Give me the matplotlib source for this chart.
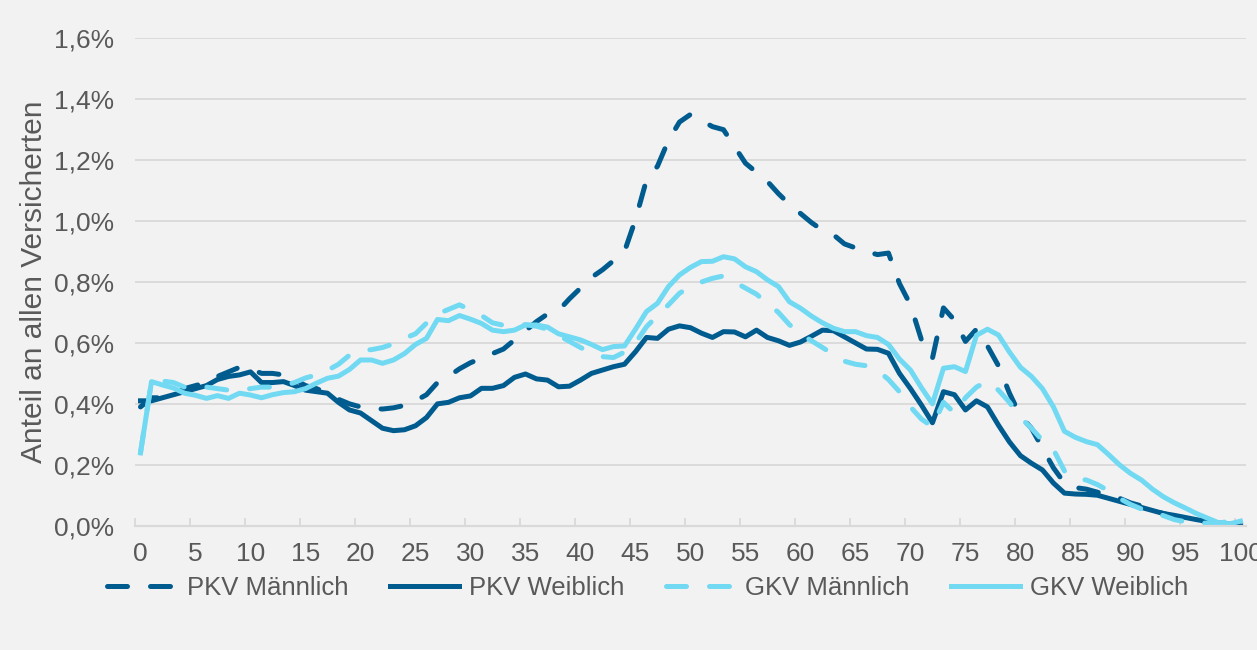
import matplotlib
matplotlib.use("Agg")
import matplotlib.pyplot as plt

plt.rcParams["font.family"] = ["Liberation Sans", "DejaVu Sans"]

# Alter 0..100 (Kategorien)
ages = list(range(0, 101))

# Anteil an allen Versicherten in %
pkv_m = [0.39, 0.42, 0.42, 0.43, 0.45, 0.46, 0.47, 0.49, 0.505, 0.52,
         0.515, 0.50, 0.50, 0.495, 0.48, 0.46, 0.45, 0.435, 0.415, 0.40,
         0.39, 0.385, 0.383, 0.387, 0.395, 0.41, 0.43, 0.47, 0.49, 0.515,
         0.535, 0.55, 0.565, 0.58, 0.61, 0.64, 0.67, 0.695, 0.706, 0.745,
         0.78, 0.815, 0.84, 0.87, 0.90, 1.005, 1.135, 1.18, 1.265, 1.325,
         1.35, 1.33, 1.31, 1.30, 1.245, 1.19, 1.16, 1.13, 1.09, 1.055,
         1.025, 0.995, 0.97, 0.955, 0.925, 0.912, 0.90, 0.89, 0.895, 0.795,
         0.725, 0.61, 0.55, 0.715, 0.675, 0.605, 0.645, 0.59, 0.525, 0.435,
         0.36, 0.32, 0.255, 0.19, 0.14, 0.125, 0.12, 0.11, 0.10, 0.09,
         0.075, 0.065, 0.05, 0.04, 0.03, 0.025, 0.02, 0.012, 0.008, 0.004,
         0.002]

pkv_w = [0.41, 0.41, 0.42, 0.43, 0.44, 0.45, 0.46, 0.48, 0.49, 0.495,
         0.505, 0.47, 0.47, 0.473, 0.46, 0.445, 0.44, 0.435, 0.405, 0.38,
         0.37, 0.345, 0.32, 0.312, 0.315, 0.328, 0.355, 0.40, 0.405, 0.42,
         0.426, 0.451, 0.451, 0.46, 0.487, 0.498, 0.482, 0.478, 0.456, 0.458,
         0.478, 0.50, 0.511, 0.522, 0.53, 0.571, 0.618, 0.615, 0.645, 0.656,
         0.65, 0.632, 0.618, 0.637, 0.636, 0.62, 0.642, 0.618, 0.607, 0.592,
         0.603, 0.622, 0.642, 0.64, 0.62, 0.60, 0.58, 0.579, 0.566, 0.50,
         0.45, 0.396, 0.338, 0.44, 0.43, 0.38, 0.41, 0.39, 0.33, 0.275,
         0.23, 0.205, 0.183, 0.14, 0.107, 0.104, 0.103, 0.10, 0.09, 0.08,
         0.07, 0.06, 0.05, 0.04, 0.034, 0.027, 0.02, 0.014, 0.009, 0.005,
         0.0]

gkv_m = [0.24, 0.475, 0.475, 0.47, 0.455, 0.45, 0.455, 0.45, 0.445, 0.445,
         0.45, 0.455, 0.455, 0.46, 0.47, 0.485, 0.495, 0.51, 0.53, 0.56,
         0.575, 0.578, 0.585, 0.597, 0.615, 0.63, 0.665, 0.695, 0.71, 0.725,
         0.708, 0.69, 0.666, 0.658, 0.655, 0.66, 0.655, 0.645, 0.625, 0.605,
         0.585, 0.568, 0.555, 0.552, 0.57, 0.60, 0.653, 0.69, 0.725, 0.763,
         0.785, 0.80, 0.812, 0.82, 0.80, 0.78, 0.76, 0.73, 0.70, 0.66,
         0.63, 0.607, 0.585, 0.562, 0.54, 0.53, 0.525, 0.51, 0.48, 0.44,
         0.39, 0.35, 0.325, 0.405, 0.37, 0.42, 0.455, 0.475, 0.445, 0.405,
         0.355, 0.32, 0.28, 0.25, 0.18, 0.155, 0.15, 0.135, 0.115, 0.09,
         0.07, 0.055, 0.045, 0.033, 0.02, 0.013, 0.01, 0.008, 0.008, 0.015,
         0.02]

gkv_w = [0.239, 0.473, 0.462, 0.452, 0.435, 0.428, 0.418, 0.427, 0.418, 0.435,
         0.429, 0.42, 0.43, 0.437, 0.44, 0.45, 0.468, 0.484, 0.491, 0.513,
         0.544, 0.544, 0.533, 0.544, 0.565, 0.595, 0.615, 0.677, 0.673, 0.69,
         0.678, 0.664, 0.642, 0.637, 0.642, 0.659, 0.659, 0.652, 0.63, 0.62,
         0.61, 0.595, 0.578, 0.588, 0.59, 0.645, 0.703, 0.73, 0.785, 0.823,
         0.848, 0.867, 0.868, 0.883, 0.876, 0.85, 0.834, 0.807, 0.785, 0.735,
         0.714, 0.688, 0.666, 0.648, 0.637, 0.637, 0.624, 0.618, 0.595, 0.547,
         0.511, 0.453, 0.40, 0.517, 0.522, 0.506, 0.625, 0.645, 0.626, 0.57,
         0.52, 0.49, 0.45, 0.39, 0.31, 0.29, 0.276, 0.266, 0.234, 0.20,
         0.172, 0.15, 0.12, 0.095, 0.075, 0.058, 0.04, 0.025, 0.01, 0.006,
         0.015]

labels = ["PKV Männlich", "PKV Weiblich", "GKV Männlich", "GKV Weiblich"]
y_ticks = [0.0, 0.2, 0.4, 0.6, 0.8, 1.0, 1.2, 1.4, 1.6]

DARK = "#005b8f"
LIGHT = "#72d9f2"
BG = "#f2f2f2"
GRID = "#d9d9d9"
TXT = "#595959"

fig = plt.figure(figsize=(12.57, 6.5), dpi=100, facecolor=BG)
ax = fig.add_axes([0.1074, 0.1912, 0.8838, 0.7499], facecolor=BG)

dash = (0, (4.0, 4.6))
styles = [(pkv_m, DARK, dash), (pkv_w, DARK, "-"),
          (gkv_m, LIGHT, dash), (gkv_w, LIGHT, "-")]
for (vals, col, ls), lab in zip(styles, labels):
    ax.plot(ages, vals, color=col, ls=ls, lw=3.6, label=lab,
            dash_capstyle="round", solid_joinstyle="round")

ax.set_xlim(-0.5, 100.5)
ax.set_ylim(0, 1.6)
ax.set_yticks(y_ticks)
ax.set_yticklabels([f"{v:.1f}%".replace(".", ",") for v in y_ticks])
ax.set_xticks(ages[::5])
ax.set_xticks([a - 0.5 for a in ages[::5]], minor=True)
ax.grid(axis="y", color=GRID, lw=1.3)
ax.set_axisbelow(True)
for s in ["top", "right", "left"]:
    ax.spines[s].set_visible(False)
ax.spines["bottom"].set_color(GRID)
ax.spines["bottom"].set_linewidth(1.6)

ax.tick_params(axis="y", length=0, pad=15, labelsize=19, labelcolor=TXT)
ax.tick_params(axis="x", which="major", length=0, pad=12, labelsize=19,
               labelcolor=TXT)
ax.tick_params(axis="x", which="minor", direction="in", length=6,
               width=1.3, color=GRID)

ax.set_ylabel("Anteil an allen Versicherten", fontsize=21.5, color=TXT,
              labelpad=4)

fig.legend(loc="center", bbox_to_anchor=(648 / 1257, 0.095), ncol=4,
           frameon=False, fontsize=18.5, labelcolor=TXT, handlelength=2.7,
           handletextpad=0.4, columnspacing=1.6)

fig.savefig("out.png", dpi=100, facecolor=BG)
